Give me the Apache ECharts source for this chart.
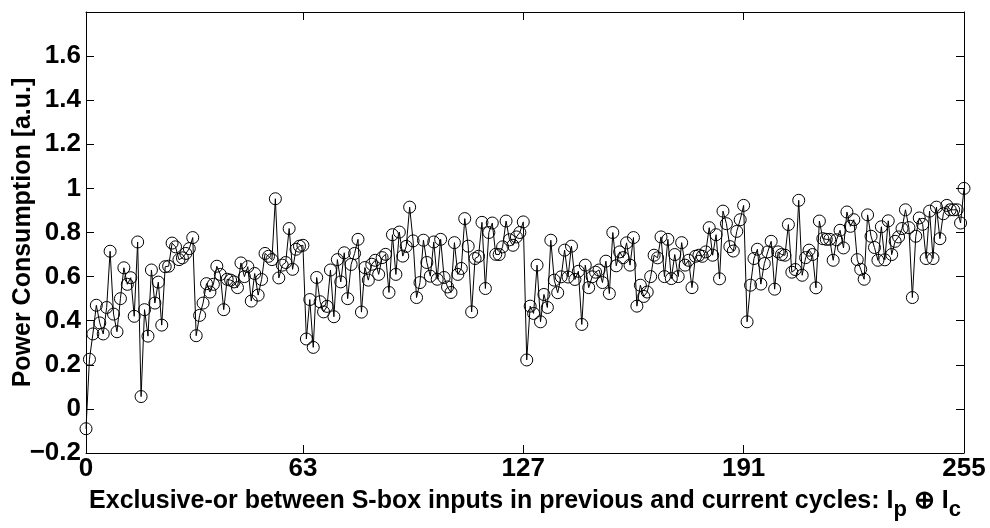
<!DOCTYPE html>
<html>
<head>
<meta charset="utf-8">
<script src="https://cdn.jsdelivr.net/npm/echarts@6.0.0/dist/echarts.min.js"></script>
<style>html,body{margin:0;padding:0;background:#fff}#c{width:990px;height:528px}</style>
</head>
<body>
<div id="c"></div>
<script>
const xTickValues = [0, 63, 127, 191, 255];
const yTickValues = [-0.2, 0, 0.2, 0.4, 0.6, 0.8, 1, 1.2, 1.4, 1.6];
const power = [
-0.09,0.225,0.34,0.47,0.39,0.34,0.46,0.715,0.43,0.35,
0.50,0.64,0.565,0.595,0.42,0.757,0.056,0.45,0.33,0.63,
0.48,0.575,0.38,0.645,0.647,0.752,0.735,0.677,0.685,0.705,
0.727,0.777,0.332,0.424,0.48,0.568,0.53,0.565,0.647,0.61,
0.45,0.588,0.584,0.576,0.55,0.662,0.60,0.645,0.489,0.614,
0.516,0.587,0.705,0.692,0.677,0.953,0.594,0.652,0.664,0.818,
0.633,0.724,0.738,0.742,0.317,0.496,0.279,0.596,0.486,0.44,
0.465,0.63,0.418,0.677,0.576,0.708,0.50,0.655,0.705,0.769,
0.439,0.641,0.584,0.656,0.674,0.61,0.686,0.701,0.528,0.79,
0.61,0.802,0.693,0.737,0.915,0.762,0.505,0.573,0.765,0.664,
0.602,0.757,0.588,0.769,0.596,0.553,0.528,0.754,0.61,0.637,
0.863,0.738,0.44,0.682,0.692,0.846,0.546,0.80,0.843,0.701,
0.70,0.735,0.852,0.767,0.742,0.78,0.80,0.848,0.222,0.466,
0.433,0.652,0.395,0.519,0.46,0.765,0.584,0.527,0.599,0.72,
0.598,0.738,0.587,0.624,0.383,0.652,0.55,0.599,0.62,0.63,
0.573,0.67,0.523,0.80,0.649,0.712,0.686,0.753,0.652,0.777,
0.466,0.561,0.51,0.53,0.60,0.697,0.685,0.78,0.60,0.769,
0.591,0.70,0.60,0.754,0.652,0.674,0.55,0.692,0.697,0.692,
0.712,0.822,0.697,0.79,0.59,0.897,0.84,0.736,0.716,0.805,
0.858,0.923,0.395,0.561,0.682,0.724,0.566,0.659,0.712,0.76,
0.543,0.712,0.70,0.697,0.836,0.62,0.632,0.946,0.606,0.686,
0.72,0.70,0.549,0.852,0.772,0.769,0.769,0.674,0.767,0.81,
0.73,0.893,0.828,0.858,0.677,0.633,0.588,0.88,0.783,0.732,
0.674,0.826,0.676,0.853,0.70,0.76,0.78,0.818,0.903,0.822,
0.505,0.783,0.866,0.837,0.682,0.897,0.682,0.915,0.772,0.885,
0.923,0.903,0.903,0.903,0.843,1.0
];
const xTitle = 'Exclusive-or between S-box inputs in previous and current cycles: ';
const yTitle = 'Power Consumption [a.u.]';

const data = power.map((v, i) => [i, v]);
const FONT = '"Liberation Sans", Arial, sans-serif';
const chart = echarts.init(document.getElementById('c'), null, {renderer: 'canvas'});
const fmtY = v => {
  const r = Math.round(v * 10) / 10;
  if (r > 1.7) return '';
  return String(r).replace('-', '\u2212');
};
const axisLineStyle = {color: '#000', width: 1};
chart.setOption({
  animation: false,
  backgroundColor: '#fff',
  grid: {left: 86, right: 26, top: 12, bottom: 75, containLabel: false, outerBoundsMode: 'none'},
  xAxis: [{
    type: 'value', min: 0, max: 255, position: 'bottom',
    axisLine: {show: true, onZero: false, lineStyle: axisLineStyle},
    axisTick: {show: true, inside: true, length: 8, customValues: xTickValues, lineStyle: axisLineStyle},
    axisLabel: {show: true, customValues: xTickValues, color: '#000', fontFamily: FONT, fontWeight: 'bold', fontSize: 26, margin: 3, showMinLabel: true, showMaxLabel: true},
    splitLine: {show: false},
    name: xTitle + 'I{s|p} \u2295 I{s|c}',
    nameLocation: 'middle', nameGap: 28, nameMoveOverlap: false,
    nameTextStyle: {color: '#000', fontFamily: FONT, fontWeight: 'bold', fontSize: 25,
      rich: {s: {fontFamily: FONT, fontWeight: 'bold', fontSize: 22, padding: [18, 0, 0, 0], color: '#000'}}}
  }, {
    type: 'value', min: 0, max: 255, position: 'top',
    axisLine: {show: true, onZero: false, lineStyle: axisLineStyle},
    axisTick: {show: true, inside: true, length: 8, customValues: xTickValues, lineStyle: axisLineStyle},
    axisLabel: {show: false}, splitLine: {show: false}
  }],
  yAxis: [{
    type: 'value', min: -0.2, max: 1.8, interval: 0.2, position: 'left',
    axisLine: {show: true, onZero: false, lineStyle: axisLineStyle},
    axisTick: {show: true, inside: true, length: 8, lineStyle: axisLineStyle},
    axisLabel: {show: true, formatter: fmtY, color: '#000', fontFamily: FONT, fontWeight: 'bold', fontSize: 26, margin: 5},
    splitLine: {show: false},
    name: yTitle, nameLocation: 'middle', nameGap: 50, nameRotate: 90, nameMoveOverlap: false,
    nameTextStyle: {color: '#000', fontFamily: FONT, fontWeight: 'bold', fontSize: 25}
  }, {
    type: 'value', min: -0.2, max: 1.8, interval: 0.2, position: 'right',
    axisLine: {show: true, onZero: false, lineStyle: axisLineStyle},
    axisTick: {show: true, inside: true, length: 8, lineStyle: axisLineStyle},
    axisLabel: {show: false}, splitLine: {show: false}
  }],
  series: [{
    type: 'line', xAxisIndex: 0, yAxisIndex: 0, data: data,
    symbol: 'circle', symbolSize: 12, showAllSymbol: true,
    lineStyle: {color: '#000', width: 1},
    itemStyle: {color: 'rgba(255,255,255,0)', borderColor: '#000', borderWidth: 1},
    emphasis: {disabled: true}, silent: true
  }]
});
</script>
</body>
</html>
